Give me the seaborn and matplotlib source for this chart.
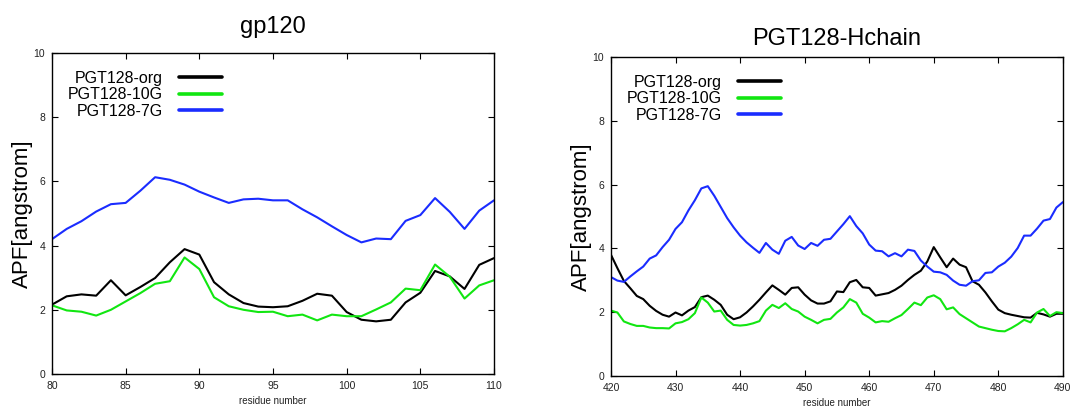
import numpy as np
import pandas as pd
import matplotlib
matplotlib.use('Agg')
import matplotlib.pyplot as plt
import seaborn as sns

# series names and colours
names = ['PGT128-org', 'PGT128-10G', 'PGT128-7G']
colors = ['#000000', '#11e611', '#1a2cff']

# gp120 panel, residues 80-110
gp_res = list(range(80, 111))
gp_org = [2.16, 2.42, 2.48, 2.44, 2.92, 2.45, 2.71, 2.99, 3.48, 3.89, 3.72,
          2.86, 2.48, 2.21, 2.10, 2.08, 2.11, 2.28, 2.50, 2.44, 1.93, 1.69,
          1.64, 1.69, 2.23, 2.53, 3.21, 3.04, 2.65, 3.40, 3.61]
gp_10g = [2.14, 1.98, 1.94, 1.82, 2.00, 2.26, 2.52, 2.81, 2.89, 3.63, 3.27,
          2.39, 2.11, 2.00, 1.93, 1.94, 1.80, 1.85, 1.67, 1.85, 1.80, 1.80,
          2.01, 2.23, 2.66, 2.61, 3.41, 3.03, 2.35, 2.76, 2.92]
gp_7g = [4.20, 4.52, 4.76, 5.06, 5.29, 5.33, 5.71, 6.13, 6.05, 5.90, 5.68,
         5.50, 5.33, 5.44, 5.46, 5.41, 5.41, 5.13, 4.88, 4.60, 4.33, 4.10,
         4.22, 4.20, 4.77, 4.95, 5.48, 5.05, 4.52, 5.09, 5.41]

# PGT128 heavy chain panel, residues 420-490
hc_res = list(range(420, 491))
hc_org = [3.80, 3.38, 2.98, 2.75, 2.51, 2.41, 2.20, 2.04, 1.92, 1.86,
          1.99, 1.90, 2.05, 2.16, 2.47, 2.52, 2.39, 2.23, 1.92, 1.78,
          1.84, 1.99, 2.18, 2.39, 2.62, 2.84, 2.70, 2.55, 2.76, 2.78,
          2.55, 2.37, 2.27, 2.27, 2.34, 2.65, 2.63, 2.94, 3.01, 2.78,
          2.76, 2.52, 2.56, 2.60, 2.70, 2.83, 3.01, 3.17, 3.30, 3.59,
          4.04, 3.72, 3.41, 3.68, 3.49, 3.41, 2.97, 2.86, 2.62, 2.34,
          2.08, 1.97, 1.92, 1.88, 1.84, 1.83, 1.98, 1.93, 1.86, 1.95,
          1.95]
hc_10g = [2.05, 1.99, 1.71, 1.63, 1.57, 1.57, 1.52, 1.50, 1.50, 1.49,
          1.65, 1.69, 1.78, 1.97, 2.46, 2.30, 2.02, 2.05, 1.76, 1.60,
          1.58, 1.60, 1.65, 1.72, 2.05, 2.23, 2.13, 2.28, 2.10, 2.02,
          1.86, 1.76, 1.65, 1.76, 1.79, 1.99, 2.15, 2.41, 2.30, 1.95,
          1.83, 1.68, 1.72, 1.70, 1.81, 1.91, 2.10, 2.30, 2.22, 2.46,
          2.53, 2.41, 2.09, 2.15, 1.94, 1.81, 1.68, 1.55, 1.50, 1.45,
          1.41, 1.40, 1.50, 1.62, 1.76, 1.68, 1.99, 2.10, 1.88, 2.00,
          1.97]
hc_7g = [3.10, 2.99, 2.95, 3.12, 3.28, 3.43, 3.68, 3.78, 4.04, 4.27,
         4.61, 4.82, 5.19, 5.51, 5.88, 5.95, 5.65, 5.30, 4.95, 4.66,
         4.40, 4.19, 4.02, 3.86, 4.17, 3.96, 3.83, 4.24, 4.36, 4.09,
         3.98, 4.17, 4.08, 4.27, 4.30, 4.53, 4.76, 5.01, 4.70, 4.47,
         4.12, 3.93, 3.91, 3.75, 3.85, 3.75, 3.96, 3.92, 3.62, 3.43,
         3.27, 3.25, 3.17, 2.99, 2.86, 2.83, 2.97, 3.00, 3.23, 3.25,
         3.43, 3.55, 3.74, 4.01, 4.40, 4.40, 4.62, 4.87, 4.92, 5.28,
         5.45]


def to_long(res, series):
    frames = []
    for name, vals in zip(names, series):
        frames.append(pd.DataFrame({'residue': res, 'apf': vals, 'system': name}))
    return pd.concat(frames, ignore_index=True)


sns.set_style('white')
plt.rcParams['font.family'] = ['Liberation Sans', 'DejaVu Sans']
plt.rcParams['text.color'] = 'black'
plt.rcParams['axes.labelcolor'] = 'black'
plt.rcParams['xtick.direction'] = 'in'
plt.rcParams['ytick.direction'] = 'in'

fig = plt.figure(figsize=(10.76, 4.07), dpi=100)
ax1 = fig.add_axes([0.0483, 0.0811, 0.4108, 0.7887])
ax2 = fig.add_axes([0.5678, 0.0762, 0.4200, 0.7838])

panels = [
    (ax1, to_long(gp_res, [gp_org, gp_10g, gp_7g]), 'gp120', (80, 110), 5, 14.5),
    (ax2, to_long(hc_res, [hc_org, hc_10g, hc_7g]), 'PGT128-Hchain', (420, 490), 10, 8.5),
]

for ax, df, title, xlim, xstep, pad in panels:
    sns.lineplot(data=df, x='residue', y='apf', hue='system', palette=colors,
                 hue_order=names, lw=1.5, legend=False, ax=ax)
    ax.set_xlim(*xlim)
    ax.set_ylim(0, 10)
    ax.set_xticks(np.arange(xlim[0], xlim[1] + 1, xstep))
    ax.set_yticks(np.arange(0, 11, 2))
    ax.tick_params(axis='both', which='major', length=4, width=0.8,
                   labelsize=7.5, colors='black', labelcolor='#222222',
                   bottom=True, left=True, top=True, right=True, pad=5)
    for sp in ax.spines.values():
        sp.set_color('black')
        sp.set_linewidth(1.0)
    ax.set_title(title, fontsize=17, pad=pad, color='black')
    ax.set_xlabel('residue number', fontsize=7, labelpad=4, color='#222222')
    ax.set_ylabel('APF[angstrom]', fontsize=16)
    ax.yaxis.set_label_coords(-0.042, 0.5)
    ax.legend(handles=ax.lines[:3], labels=names, loc='upper left',
              bbox_to_anchor=(0.035, 0.945), frameon=False, markerfirst=False,
              fontsize=11.5, handlelength=2.7, handletextpad=1.0,
              labelspacing=0.1, borderpad=0, borderaxespad=0)
    for h in ax.get_legend().legend_handles:
        h.set_linewidth(2.6)

fig.savefig('out.png', dpi=100)
